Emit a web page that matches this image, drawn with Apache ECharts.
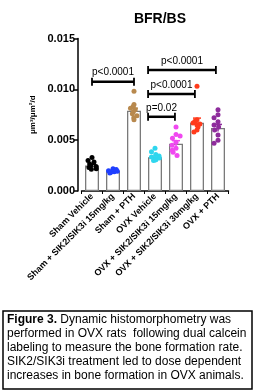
<!DOCTYPE html>
<html>
<head>
<meta charset="utf-8">
<script src="https://cdn.jsdelivr.net/npm/echarts@6/dist/echarts.min.js"></script>
<style>
  html, body { margin: 0; padding: 0; background: #fff; }
  #chart { width: 258px; height: 392px; }
</style>
</head>
<body>
<div id="chart"></div>
<script>
// groups on the x axis
const categories = [
  'Sham Vehicle',
  'Sham + SIK2/SIK3i 15mg/kg',
  'Sham + PTH',
  'OVX Vehicle',
  'OVX + SIK2/SIK3i 15mg/kg',
  'OVX + SIK2/SIK3i 30mg/kg',
  'OVX + PTH'
];
const colors = ['#000000', '#1f3fff', '#b8894e', '#2fd6ee', '#f048f0', '#ff3b1c', '#8e2c9c'];

// bar heights (mean) and SEM
const means = [0.00250, 0.00198, 0.00790, 0.00332, 0.00465, 0.00672, 0.00620];
const sems = [0.00012, 0.00005, 0.00025, 0.00012, 0.00030, 0.00045, 0.00035];

// individual animals
const shamVehicle = [0.00330, 0.00300, 0.00285, 0.00265, 0.00250, 0.00240, 0.00230, 0.00220, 0.00215];
const shamSik15 = [0.00220, 0.00212, 0.00205, 0.00200, 0.00198, 0.00195, 0.00190, 0.00185, 0.00178];
const shamPth = [0.00980, 0.00850, 0.00830, 0.00815, 0.00800, 0.00780, 0.00760, 0.00740, 0.00720, 0.00700];
const ovxVehicle = [0.00420, 0.00385, 0.00360, 0.00345, 0.00335, 0.00325, 0.00315, 0.00310, 0.00305, 0.00300];
const ovxSik15 = [0.00630, 0.00555, 0.00540, 0.00520, 0.00480, 0.00450, 0.00420, 0.00400, 0.00380, 0.00350];
const ovxSik30 = [0.01030, 0.00700, 0.00685, 0.00670, 0.00660, 0.00650, 0.00630, 0.00600, 0.00580];
const ovxPth = [0.00800, 0.00750, 0.00720, 0.00680, 0.00650, 0.00630, 0.00600, 0.00550, 0.00500, 0.00470];
const points = [shamVehicle, shamSik15, shamPth, ovxVehicle, ovxSik15, ovxSik30, ovxPth];

// y axis ticks
const yTicks = [0, 0.005, 0.010, 0.015];

// significance brackets: from category, to category, height, text
const brackets = [
  [0, 2, 0.01075, 'p<0.0001'],
  [2.67, 5.9, 0.01190, 'p<0.0001'],
  [2.67, 4.9, 0.00955, 'p<0.0001'],
  [2.67, 3.95, 0.00730, 'p=0.02']
];

const captionLines = [
  '{b|Figure 3.} Dynamic histomorphometry was',
  'performed in OVX rats  following dual calcein',
  'labeling to measure the bone formation rate.',
  'SIK2/SIK3i treatment led to dose dependent',
  'increases in bone formation in OVX animals.'
];

const font = 'Arial, "Liberation Sans", sans-serif';
const chart = echarts.init(document.getElementById('chart'));

const scatterSeries = points.map((vals, i) => ({
  type: 'scatter',
  symbolSize: 5,
  z: 4,
  itemStyle: { color: colors[i], opacity: 1 },
  data: vals.map(v => [i, v])
}));

function catX(api, c, v) {
  const base = Math.floor(c);
  const band = api.size([1, 0])[0];
  return api.coord([base, v])[0] + (c - base) * band;
}

const option = {
  animation: false,
  title: {
    text: 'BFR/BS',
    left: 155,
    top: 7,
    textAlign: 'center',
    textStyle: { fontFamily: font, fontSize: 14, fontWeight: 'bold', color: '#000' }
  },
  grid: { left: 81.5, top: 38.5, width: 147, height: 152.5, outerBoundsMode: 'none' },
  xAxis: {
    type: 'category',
    data: categories,
    jitter: 9,
    jitterOverlap: false,
    jitterMargin: 0,
    axisLine: { lineStyle: { color: '#000', width: 1.5 } },
    axisTick: { show: true, length: 3, lineStyle: { color: '#000', width: 1 } },
    axisLabel: {
      rotate: 45,
      interval: 0,
      margin: 4,
      fontFamily: font,
      fontSize: 9,
      fontWeight: 'bold',
      color: '#000'
    }
  },
  yAxis: {
    type: 'value',
    min: yTicks[0],
    max: yTicks[yTicks.length - 1],
    interval: 0.005,
    offset: 3.5,
    name: 'μm³/μm²/d',
    nameLocation: 'middle',
    nameRotate: 90,
    nameGap: 36,
    nameTextStyle: { fontFamily: font, fontSize: 8, fontWeight: 'bold', color: '#000' },
    splitLine: { show: false },
    axisLine: { show: true, lineStyle: { color: '#000', width: 1.5 } },
    axisTick: { show: true, length: 4, lineStyle: { color: '#000', width: 1.5 } },
    axisLabel: {
      margin: 3,
      fontFamily: font,
      fontSize: 11,
      fontWeight: 'bold',
      color: '#000',
      formatter: v => v.toFixed(3)
    }
  },
  series: [
    {
      type: 'bar',
      barWidth: 14,
      z: 2,
      itemStyle: { color: 'rgba(255,255,255,0)', borderColor: '#7a7a7a', borderWidth: 1.3 },
      data: means
    },
    {
      type: 'custom',
      z: 5,
      data: means.map((m, i) => [i, m, sems[i]]),
      renderItem: (params, api) => {
        const i = api.value(0);
        const top = api.coord([i, api.value(1) + api.value(2)]);
        const bot = api.coord([i, api.value(1) - api.value(2)]);
        const style = { stroke: colors[i], lineWidth: 1.5 };
        return {
          type: 'group',
          children: [
            { type: 'line', shape: { x1: top[0], y1: top[1], x2: bot[0], y2: bot[1] }, style },
            { type: 'line', shape: { x1: top[0] - 4, y1: top[1], x2: top[0] + 4, y2: top[1] }, style }
          ]
        };
      }
    },
    ...scatterSeries,
    {
      type: 'custom',
      z: 6,
      data: brackets,
      renderItem: (params, api) => {
        const b = brackets[params.dataIndex];
        const y = api.coord([0, b[2]])[1];
        const x1 = catX(api, b[0], b[2]);
        const x2 = catX(api, b[1], b[2]);
        const style = { stroke: '#000', lineWidth: 2.5 };
        return {
          type: 'group',
          children: [
            { type: 'line', shape: { x1, y1: y, x2, y2: y }, style },
            { type: 'line', shape: { x1, y1: y - 4, x2: x1, y2: y + 4 }, style: { stroke: '#000', lineWidth: 1.8 } },
            { type: 'line', shape: { x1: x2, y1: y - 4, x2, y2: y + 4 }, style: { stroke: '#000', lineWidth: 1.8 } },
            {
              type: 'text',
              style: {
                text: b[3],
                x: (x1 + x2) / 2,
                y: y - 4,
                align: 'center',
                verticalAlign: 'bottom',
                font: '10px ' + font,
                fill: '#000'
              }
            }
          ]
        };
      }
    }
  ],
  graphic: [
    {
      type: 'rect',
      shape: { x: 3, y: 311, width: 249, height: 78 },
      style: { fill: '#fff', stroke: '#000', lineWidth: 1.5 }
    },
    {
      type: 'text',
      left: 7,
      top: 313,
      style: {
        text: captionLines.join('\n'),
        fontFamily: font,
        fontSize: 12,
        lineHeight: 14,
        fill: '#000',
        rich: {
          b: { fontFamily: font, fontSize: 12, fontWeight: 'bold', lineHeight: 14 }
        }
      }
    }
  ]
};

chart.setOption(option);
</script>
</body>
</html>
